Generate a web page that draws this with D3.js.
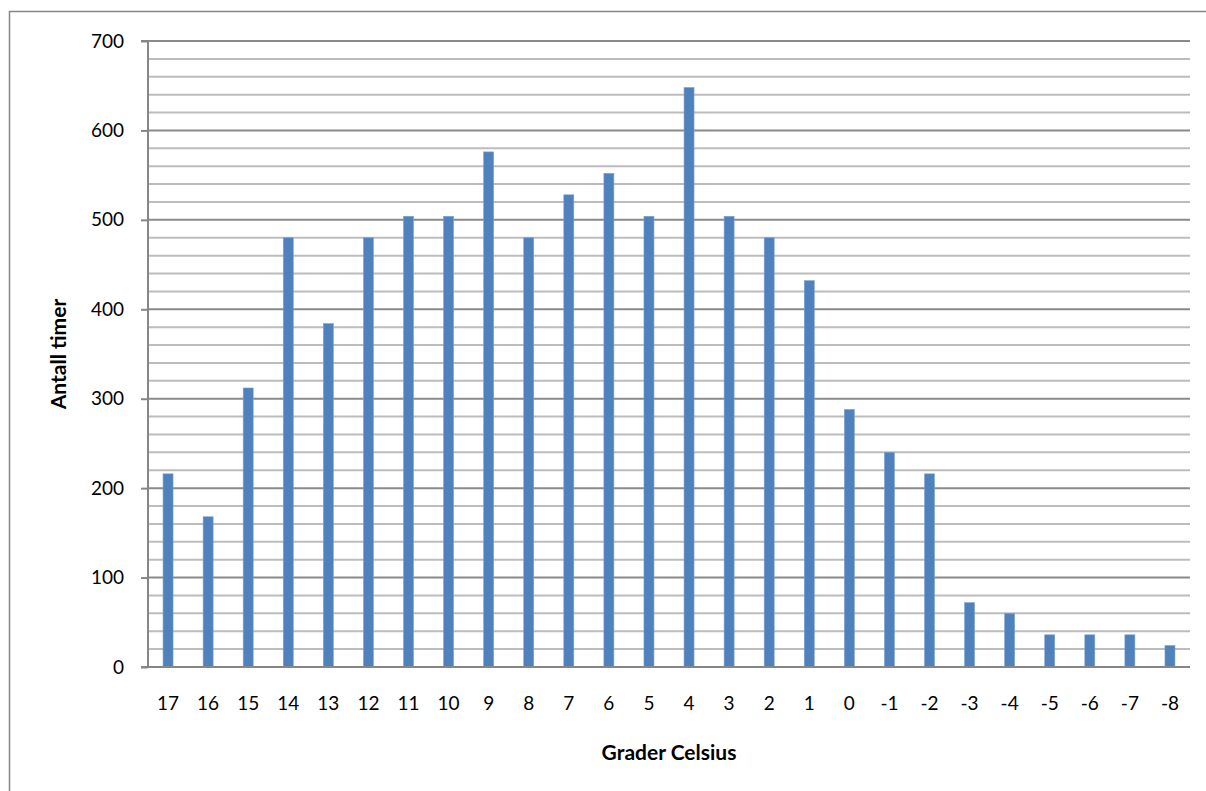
<!DOCTYPE html>
<html><head><meta charset="utf-8">
<script src="https://cdn.jsdelivr.net/npm/d3@7"></script>
<style>body{margin:0;background:#fff}svg{display:block}</style>
</head><body><svg id="c" width="1206" height="791"></svg>
<script>
const categories = ["17","16","15","14","13","12","11","10","9","8","7","6","5","4","3","2","1","0","-1","-2","-3","-4","-5","-6","-7","-8"];
const values = [216,168,312,480,384,480,504,504,576,480,528,552,504,648,504,480,432,288,240,216,72,60,36,36,36,24];
const yMajorTicks = [0,100,200,300,400,500,600,700];
const yMinorTicks = d3.range(0,701,20).filter(v=>v%100!==0);
const xTitle = "Grader Celsius";
const yTitle = "Antall timer";

const svg = d3.select("#c");
const font = "Lato, 'Open Sans', sans-serif";
const L=148, R=1190, T=41, B=667;
const x = d3.scaleBand().domain(categories).range([L,R]).paddingInner(0).paddingOuter(0);
const y = d3.scaleLinear().domain([0,700]).range([B,T]);

svg.append("rect").attr("x",9.5).attr("y",11.5).attr("width",1300).attr("height",900)
  .attr("fill","none").attr("stroke","#868686").attr("stroke-width",1.5);

svg.append("g").selectAll("line").data(yMinorTicks).join("line")
  .attr("x1",L).attr("x2",R).attr("y1",d=>y(d)).attr("y2",d=>y(d))
  .attr("stroke","#bcbcbc").attr("stroke-width",2);
svg.append("g").selectAll("line").data(yMajorTicks.filter(d=>d>0)).join("line")
  .attr("x1",L).attr("x2",R).attr("y1",d=>y(d)).attr("y2",d=>y(d))
  .attr("stroke","#8a8a8a").attr("stroke-width",2);

const bw = 10;
svg.append("g").selectAll("rect").data(values).join("rect")
  .attr("x",(d,i)=>x(categories[i])+x.bandwidth()/2-bw/2)
  .attr("y",d=>y(d)).attr("width",bw).attr("height",d=>B-y(d))
  .attr("fill","#4f81bd").attr("stroke","#7ea2d0").attr("stroke-width",0.6);

const ya = d3.axisLeft(y).tickValues(yMajorTicks).tickSize(7).tickPadding(17).tickFormat(d3.format("d"));
const gy = svg.append("g").attr("transform",`translate(${L},0)`).call(ya);
gy.select(".domain").attr("stroke","#868686").attr("stroke-width",2).attr("d",`M-7,${T}H0V${B}H-7`);
gy.selectAll(".tick line").attr("stroke","#868686").attr("stroke-width",2);
gy.selectAll("text").attr("font-family",font).attr("font-size",19).attr("fill","#000");

const xa = d3.axisBottom(x).tickSize(0).tickPadding(30);
const gx = svg.append("g").attr("transform",`translate(0,${B})`).call(xa);
gx.select(".domain").attr("stroke","#868686").attr("stroke-width",2).attr("d",`M${L},0H${R}`);
gx.selectAll("text").attr("font-family",font).attr("font-size",19).attr("fill","#000");

svg.append("text").attr("x",669).attr("y",760).attr("text-anchor","middle")
  .attr("font-family",font).attr("font-size",21).attr("font-weight","bold").text(xTitle);
svg.append("text").attr("transform","translate(66,354) rotate(-90)").attr("text-anchor","middle")
  .attr("font-family",font).attr("font-size",21).attr("font-weight","bold").text(yTitle);
</script></body></html>
